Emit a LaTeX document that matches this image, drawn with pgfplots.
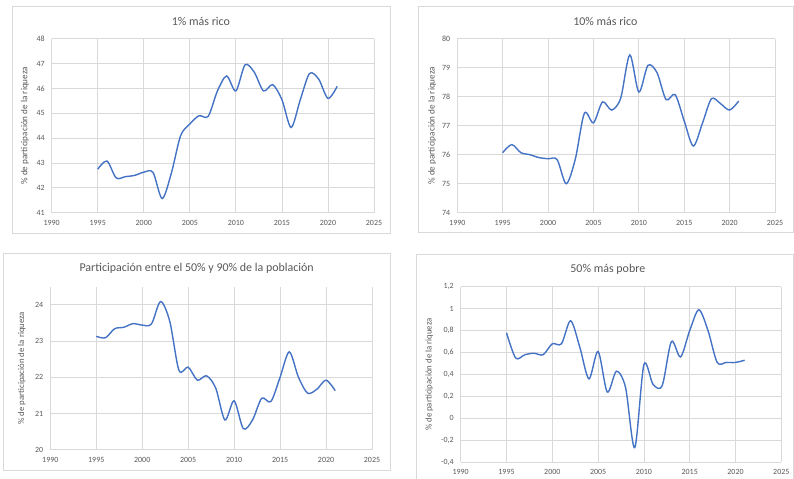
\documentclass[border=0pt]{standalone}
\usepackage{pgfplots}
\pgfplotsset{compat=1.18}
\usepackage{fontspec}
\setmainfont{Carlito}
\definecolor{linea}{HTML}{4472C4}
\definecolor{rejilla}{HTML}{D9D9D9}
\definecolor{texto}{HTML}{595959}
\pgfplotsset{
  every axis title/.style={at={(0.5,1)}, anchor=center,
    font=\fontsize{12}{14}\selectfont, color=texto},
  excel/.style={
    scale only axis, anchor=south west,
    xmin=1990, xmax=2025, xtick={1990,1995,...,2025},
    axis line style={draw=none}, major tick length=0pt,
    grid=major, grid style={color=rejilla, line width=0.75pt},
    ticklabel style={font=\fontsize{8}{9}\selectfont, color=texto},
    xticklabel style={yshift=-4bp},
    yticklabel style={xshift=-3.5bp},
    /pgf/number format/assume math mode=true,
    /pgf/number format/1000 sep={},
    ylabel={\% de participación de la riqueza},
    clip=false,
  },
  serie/.style={color=linea, line width=1.4pt, smooth, no markers},
}
\begin{document}
\begin{tikzpicture}
\path[fill=white, use as bounding box] (0,0) rectangle (794bp,-479bp);
\draw[rejilla, line width=0.75pt] (12bp,-6bp) rectangle (390bp,-233bp);
\draw[rejilla, line width=0.75pt] (418bp,-6bp) rectangle (793bp,-232bp);
\draw[rejilla, line width=0.75pt] (3.5bp,-253.5bp) rectangle (390bp,-470bp);
\draw[rejilla, line width=0.75pt] (416.7bp,-254bp) rectangle (793bp,-485bp);

% 1% mas rico
\begin{axis}[excel, at={(51.7bp,-212.7bp)}, width=322.3bp, height=174bp,
  ymin=41, ymax=48, ytick={41,...,48},
  title={1\% más rico},
  title style={at={(axis description cs:0.463,1.098)}},
  ylabel style={at={(axis description cs:-0.083,0.5)}, anchor=center, rotate=0, font=\fontsize{9.2}{11}\selectfont, color=texto}]
\addplot[serie] coordinates {
(1995,42.75)(1996,43.08)(1997,42.40)(1998,42.45)(1999,42.50)(2000,42.63)(2001,42.62)
(2002,41.57)(2003,42.60)(2004,44.10)(2005,44.57)(2006,44.90)(2007,44.88)(2008,45.90)
(2009,46.50)(2010,45.90)(2011,46.95)(2012,46.65)(2013,45.90)(2014,46.15)(2015,45.55)
(2016,44.43)(2017,45.55)(2018,46.60)(2019,46.37)(2020,45.60)(2021,46.08)};
\end{axis}

% 10% mas rico
\begin{axis}[excel, at={(457.3bp,-212.7bp)}, width=317.7bp, height=174bp,
  ymin=74, ymax=80, ytick={74,...,80},
  title={10\% más rico},
  title style={at={(axis description cs:0.466,1.098)}},
  ylabel style={at={(axis description cs:-0.079,0.5)}, anchor=center, rotate=0, font=\fontsize{9.2}{11}\selectfont, color=texto}]
\addplot[serie] coordinates {
(1995,76.07)(1996,76.35)(1997,76.07)(1998,76.00)(1999,75.90)(2000,75.86)(2001,75.83)
(2002,75.00)(2003,75.85)(2004,77.43)(2005,77.10)(2006,77.82)(2007,77.54)(2008,77.95)
(2009,79.44)(2010,78.16)(2011,79.08)(2012,78.83)(2013,77.90)(2014,78.07)(2015,77.16)
(2016,76.30)(2017,77.08)(2018,77.93)(2019,77.76)(2020,77.54)(2021,77.85)};
\end{axis}

% 50%-90%
\begin{axis}[excel, at={(50.3bp,-449.7bp)}, width=321.7bp, height=163bp,
  ymin=20, ymax=24.5, ytick={20,...,24},
  title={Participación entre el 50\% y 90\% de la población},
  title style={at={(axis description cs:0.455,1.113)}},
  ylabel style={at={(axis description cs:-0.089,0.5)}, anchor=center, rotate=0, font=\fontsize{8.8}{10}\selectfont, color=texto}]
\addplot[serie] coordinates {
(1995,23.13)(1996,23.09)(1997,23.34)(1998,23.38)(1999,23.48)(2000,23.44)(2001,23.47)
(2002,24.09)(2003,23.54)(2004,22.19)(2005,22.28)(2006,21.92)(2007,22.04)(2008,21.70)
(2009,20.82)(2010,21.35)(2011,20.58)(2012,20.82)(2013,21.42)(2014,21.33)(2015,22.00)
(2016,22.70)(2017,22.00)(2018,21.56)(2019,21.67)(2020,21.92)(2021,21.63)};
\end{axis}

% 50% mas pobre
\begin{axis}[excel, at={(460.7bp,-462.3bp)}, width=320.6bp, height=175.6bp,
  ymin=-0.4, ymax=1.2, ytick={-0.4,-0.2,0,0.2,0.4,0.6,0.8,1,1.2},
  yticklabels={{-0,4},{-0,2},0,{0,2},{0,4},{0,6},{0,8},1,{1,2}},
  title={50\% más pobre},
  title style={at={(axis description cs:0.459,1.099)}},
  ylabel style={at={(axis description cs:-0.098,0.5)}, anchor=center, rotate=0, font=\fontsize{8.8}{10}\selectfont, color=texto}]
\addplot[serie] coordinates {
(1995,0.78)(1996,0.55)(1997,0.58)(1998,0.594)(1999,0.58)(2000,0.68)(2001,0.68)
(2002,0.89)(2003,0.65)(2004,0.36)(2005,0.61)(2006,0.24)(2007,0.43)(2008,0.28)
(2009,-0.267)(2010,0.49)(2011,0.31)(2012,0.30)(2013,0.70)(2014,0.56)(2015,0.80)
(2016,0.99)(2017,0.80)(2018,0.51)(2019,0.51)(2020,0.51)(2021,0.53)};
\end{axis}
\end{tikzpicture}
\end{document}
